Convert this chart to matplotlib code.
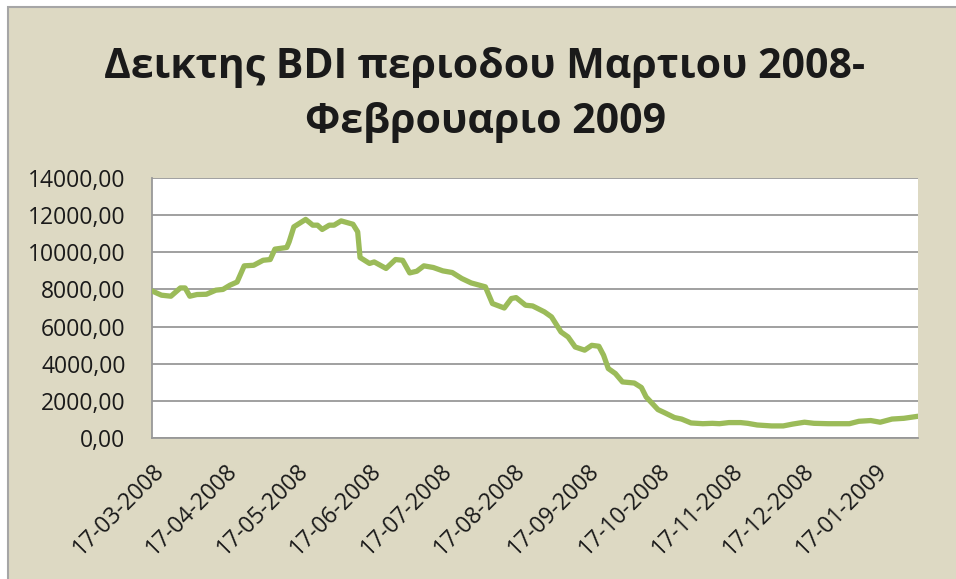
"""BDI index, March 2008 - February 2009 (Excel-style line chart)."""

import matplotlib
matplotlib.use("Agg")
import matplotlib.pyplot as plt
import matplotlib.dates as mdates
import pandas as pd
from matplotlib.patches import Rectangle
from matplotlib.ticker import FuncFormatter, MultipleLocator

# ---------- Data ----------
DATES = [
    "2008-03-17", "2008-03-21", "2008-03-25", "2008-03-29", "2008-03-31",
    "2008-04-02", "2008-04-05", "2008-04-09", "2008-04-13", "2008-04-16",
    "2008-04-19", "2008-04-22", "2008-04-25", "2008-04-29", "2008-05-03",
    "2008-05-06", "2008-05-08", "2008-05-13", "2008-05-14", "2008-05-16",
    "2008-05-21", "2008-05-24", "2008-05-26", "2008-05-28", "2008-05-31",
    "2008-06-02", "2008-06-05", "2008-06-10", "2008-06-12", "2008-06-13",
    "2008-06-17", "2008-06-19", "2008-06-24", "2008-06-28", "2008-07-01",
    "2008-07-04", "2008-07-07", "2008-07-10", "2008-07-14", "2008-07-18",
    "2008-07-22", "2008-07-26", "2008-07-30", "2008-08-05", "2008-08-08",
    "2008-08-13", "2008-08-16", "2008-08-18", "2008-08-22", "2008-08-25",
    "2008-08-30", "2008-09-02", "2008-09-06", "2008-09-09", "2008-09-12",
    "2008-09-16", "2008-09-19", "2008-09-22", "2008-09-24", "2008-09-26",
    "2008-09-29", "2008-10-02", "2008-10-07", "2008-10-10", "2008-10-12",
    "2008-10-14", "2008-10-17", "2008-10-20", "2008-10-24", "2008-10-27",
    "2008-10-31", "2008-11-05", "2008-11-09", "2008-11-12", "2008-11-16",
    "2008-11-21", "2008-11-24", "2008-11-28", "2008-12-04", "2008-12-09",
    "2008-12-13", "2008-12-18", "2008-12-22", "2008-12-28", "2009-01-06",
    "2009-01-10", "2009-01-15", "2009-01-19", "2009-01-24", "2009-01-29",
    "2009-02-04",
]
BDI = [
    7920, 7690, 7635, 8080, 8080,
    7635, 7725, 7740, 7960, 8000,
    8230, 8400, 9270, 9300, 9570,
    9610, 10170, 10260, 10560, 11370,
    11770, 11460, 11460, 11230, 11460,
    11460, 11690, 11510, 11100, 9720,
    9400, 9480, 9130, 9610, 9570,
    8890, 8980, 9270, 9180, 9000,
    8910, 8590, 8350, 8140, 7240,
    7000, 7510, 7560, 7150, 7110,
    6790, 6520, 5710, 5440, 4900,
    4730, 4990, 4940, 4460, 3740,
    3470, 3020, 2960, 2720, 2210,
    1940, 1530, 1350, 1100, 1020,
    810, 770, 790, 770, 830,
    830, 790, 700, 650, 650,
    750, 850, 790, 770, 770,
    900, 940, 850, 1020, 1060,
    1170,
]
TITLE = "Δεικτης BDI περιοδου Μαρτιου 2008-\nΦεβρουαριο 2009"

# ---------- Theme ----------
BG = "#ddd9c3"
BORDER = "#a6a6a6"
GRID = "#989898"
LINE = "#9bbb59"
TXT = "#1a1a1a"
FONT = ["Open Sans", "DejaVu Sans"]


def main() -> None:
    plt.rcParams["font.family"] = FONT
    dates = pd.to_datetime(DATES)

    fig = plt.figure(figsize=(9.56, 5.79), dpi=100, facecolor="white")
    # beige chart area with the grey frame (cropped on right/bottom)
    fig.patches.append(Rectangle((8 / 956, -0.05), 1.2, 1 - 7 / 579 + 0.05,
                                 transform=fig.transFigure, facecolor=BG,
                                 edgecolor=BORDER, linewidth=1.5, zorder=-5))

    ax = fig.add_axes([152 / 956, 1 - 438 / 579, (918 - 152) / 956, (438 - 178) / 579])
    ax.set_facecolor("white")

    ax.plot(dates, BDI, color=LINE, linewidth=3.8,
            solid_joinstyle="round", solid_capstyle="round", zorder=3)

    ax.set_ylim(0, 14000)
    ax.yaxis.set_major_locator(MultipleLocator(2000))
    ax.yaxis.set_major_formatter(FuncFormatter(lambda v, _: f"{v:.2f}".replace(".", ",")))
    ax.set_xlim(dates[0], dates[-1])
    ax.xaxis.set_major_locator(mdates.MonthLocator(bymonthday=17))
    ax.xaxis.set_major_formatter(mdates.DateFormatter("%d-%m-%Y"))

    ax.grid(axis="y", color=GRID, linewidth=1.3)
    ax.set_axisbelow(True)
    for side in ("top", "right"):
        ax.spines[side].set_visible(False)
    for side in ("left", "bottom"):
        ax.spines[side].set_color(GRID)
        ax.spines[side].set_linewidth(1.3)

    ax.tick_params(axis="both", length=0, colors=TXT, labelsize=16.5)
    ax.tick_params(axis="y", pad=19)
    ax.tick_params(axis="x", pad=15)
    plt.setp(ax.get_xticklabels(), rotation=45, ha="right", rotation_mode="anchor")

    fig.text(485 / 956, 1 - 95 / 579, TITLE, ha="center", va="center",
             fontsize=29.5, fontweight="bold", color=TXT, linespacing=1.45)

    fig.savefig("out.png", dpi=100, facecolor="white")


if __name__ == "__main__":
    main()
